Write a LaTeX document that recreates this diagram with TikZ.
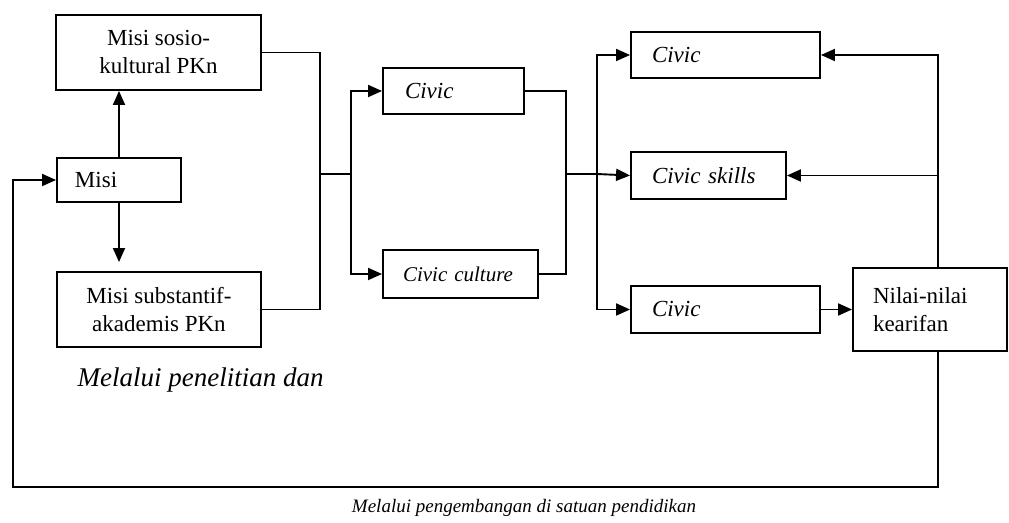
\documentclass[tikz,border=0pt]{standalone}
\usepackage{fontspec}
\setmainfont{Liberation Serif}
\usepackage{tikz}
\usetikzlibrary{arrows.meta}

\begin{document}
\begin{tikzpicture}[x=0.5pt,y=-0.5pt,line width=0.95pt,
  >={Triangle[length=7pt,width=6pt]},
  box/.style={draw,inner ysep=0pt,font=\fontsize{11.5}{14}\selectfont},
  cbox/.style={box,align=center},
  lbox/.style={box,align=left,inner xsep=10pt},
  lbl/.style={font=\fontsize{13.5}{16}\selectfont\itshape}]
\useasboundingbox (0,0) rectangle (1009,523);
\coordinate (j1) at (320,174);
\coordinate (j2) at (351,174);
\coordinate (j3) at (566,174);
\coordinate (j4) at (597,174);
\coordinate (fbr) at (938,487);
\coordinate (fbl) at (13,487);
 \node[cbox,minimum width=102.5pt,minimum height=37.5pt] (sosio) at (158.5,52.5) {Misi sosio-\\kultural PKn};
 \node[lbox,inner xsep=9pt,text width=44pt,minimum height=22pt] (misi) at (119,180) {Misi};
 \node[cbox,minimum width=102pt,minimum height=37.5pt] (subst) at (159,309.5) {Misi substantif-\\akademis PKn};
 \node[lbox,inner xsep=11pt,text width=48.5pt,minimum height=23pt] (civa) at (453.5,91) {\itshape Civic};
 \node[lbox,inner xsep=10pt,text width=57.5pt,minimum height=24pt,font=\fontsize{10.5}{12}\selectfont] (culture) at (460.5,274) {\itshape Civic culture};
 \node[lbox,inner xsep=10.5pt,text width=73.5pt,minimum height=23pt] (civb) at (725.5,55) {\itshape Civic};
 \node[lbox,inner xsep=10.5pt,text width=56.5pt,minimum height=23.5pt] (skills) at (708.5,175.5) {\itshape Civic skills};
 \node[lbox,inner xsep=10.5pt,text width=73.5pt,minimum height=23.5pt] (civc) at (725.5,309.5) {\itshape Civic};
 \node[lbox,text width=57pt,minimum height=41.5pt] (nilai) at (930,309.5) {Nilai-nilai\\kearifan};
 \node[lbl,anchor=west] (penelitian) at (70,380) {Melalui penelitian dan};
 \node[lbl,font=\fontsize{9.5}{11}\selectfont\itshape] (caption) at (524,508) {Melalui pengembangan di satuan pendidikan};
 \draw[->] (misi.north) -- (misi.north |- sosio.south);
 \draw[->,shorten >=4.5pt] (misi.south) -- (misi.south |- subst.north);
 \draw (sosio.east) -| (j1);
 \draw (subst.east) -| (j1);
 \draw (j1) -- (j2);
 \draw[->] (j2) |- (civa.west);
 \draw[->] (j2) |- (culture.west);
 \draw (civa.east) -| (j3);
 \draw (culture.east) -| (j3);
 \draw (j3) -- (j4);
 \draw[->] (j4) |- (civb.west);
 \draw[->] (j4) -- (skills.west);
 \draw[->] (j4) |- (civc.west);
 \draw[->] (civc.east) -- (nilai.west);
 \draw[->] (nilai.north -| fbr) |- (civb.east);
 \draw[->] (fbr |- skills.east) -- (skills.east);
 \draw[->] (nilai.south -| fbr) -- (fbr) -- (fbl) |- (misi.west);
\end{tikzpicture}
\end{document}
